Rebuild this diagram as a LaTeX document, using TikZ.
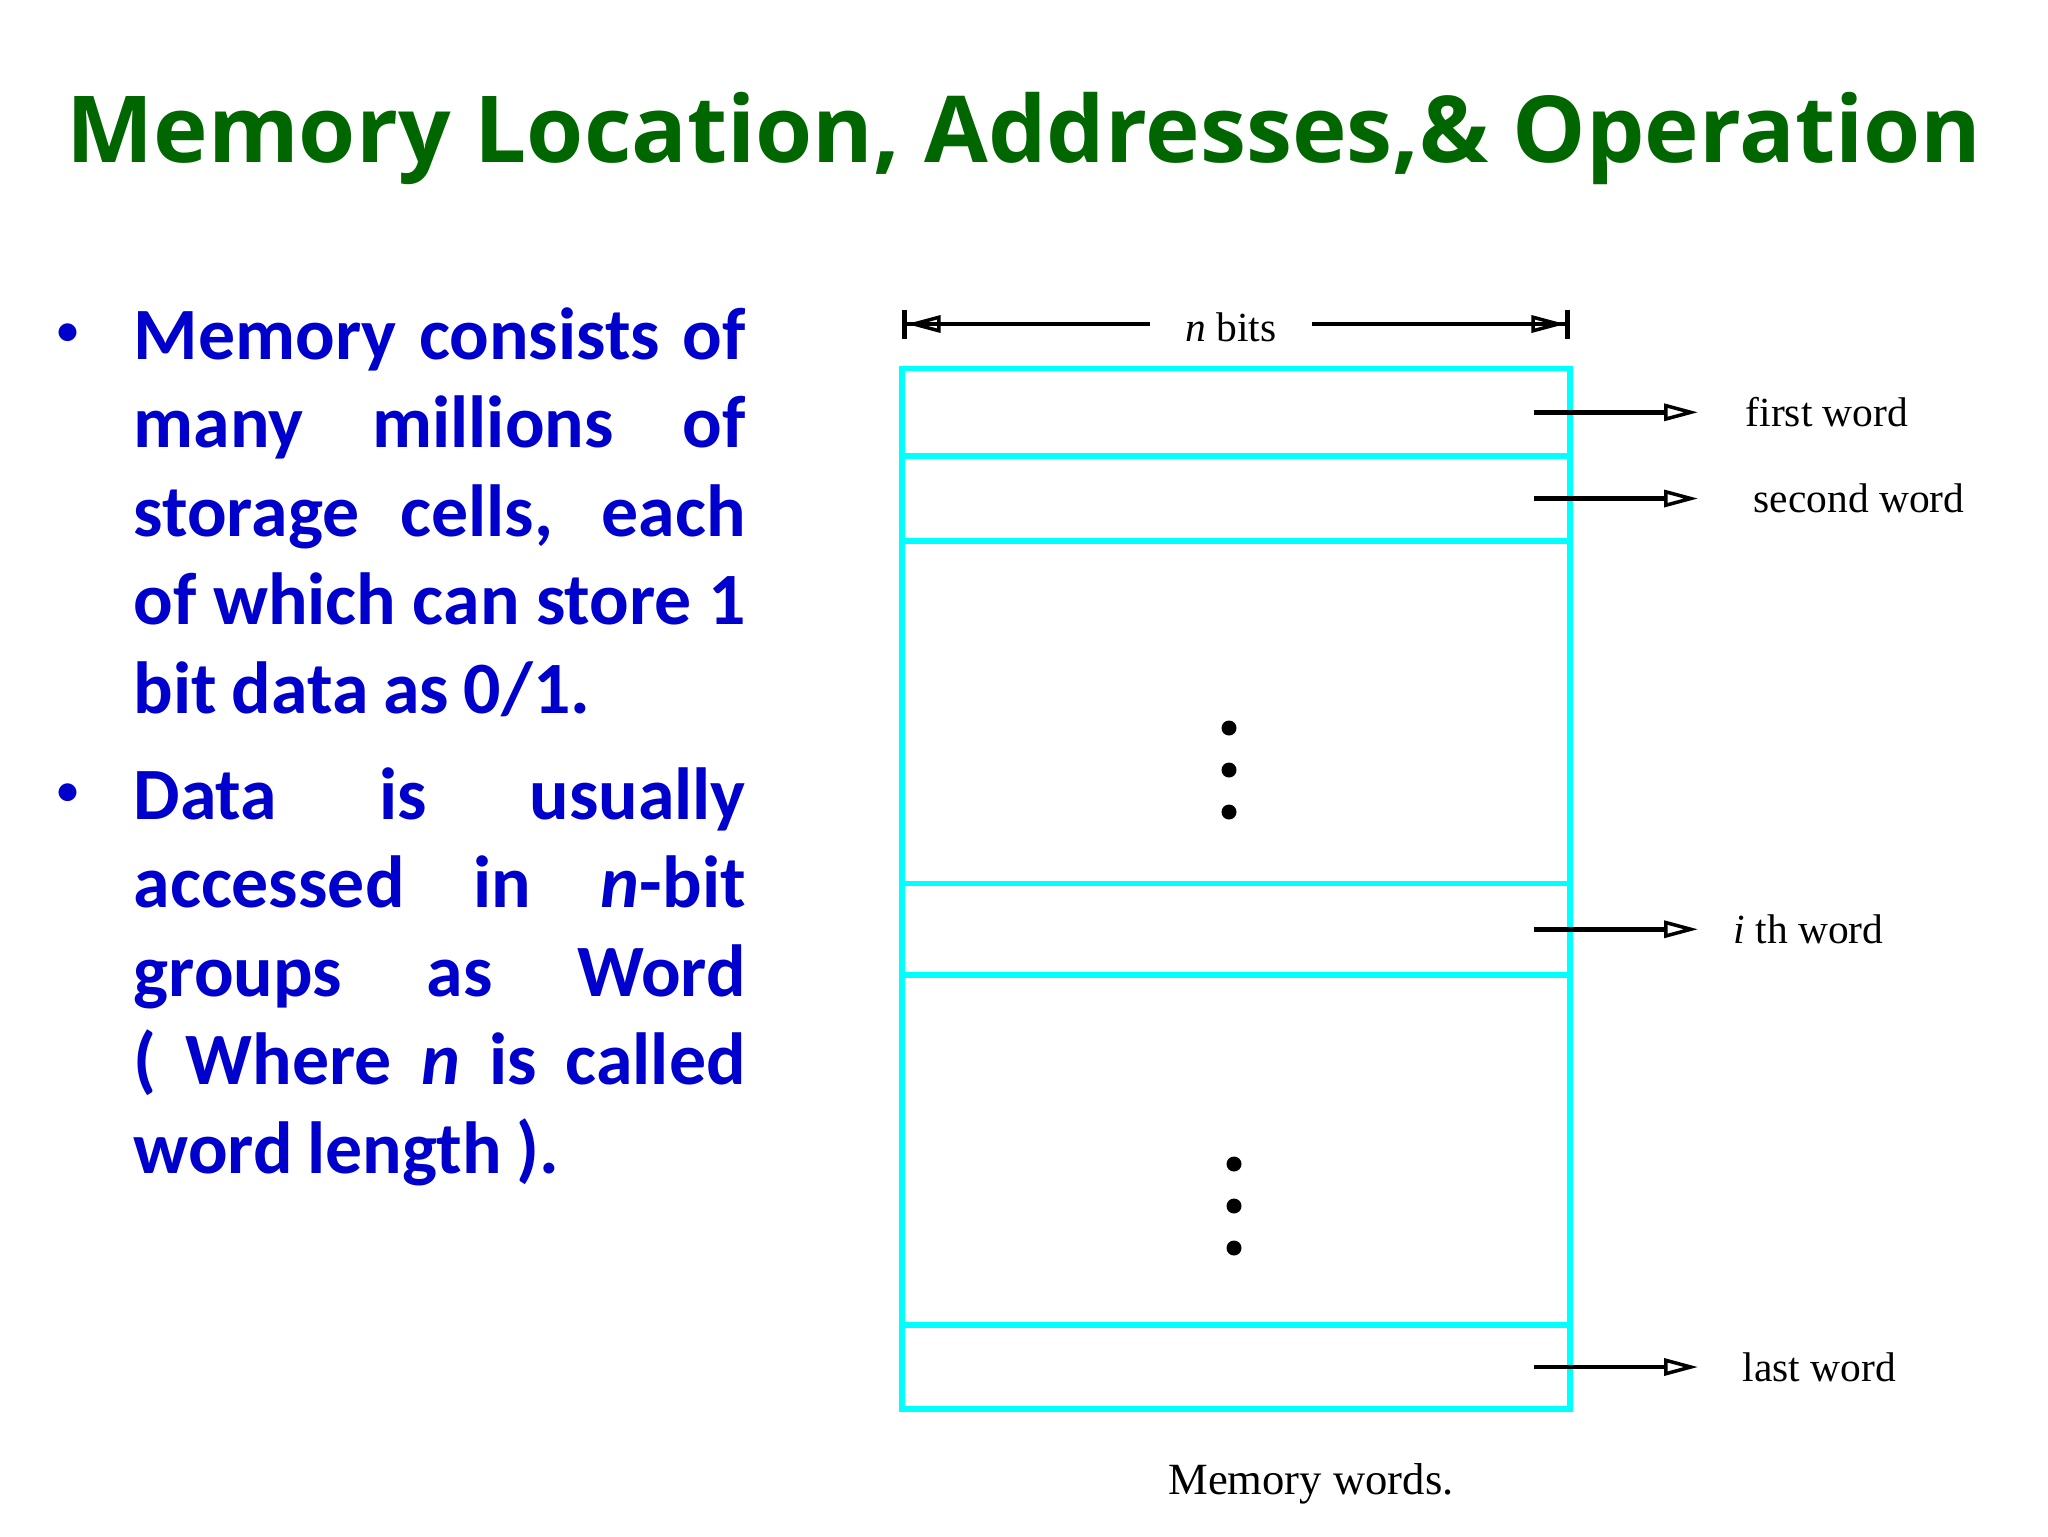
\documentclass[tikz,border=0pt]{standalone}
\usepackage{fontspec}
\setmainfont{Liberation Serif}
\newfontfamily\titlefont{Open Sans}
\newfontfamily\bodyfont{Carlito}
\usepackage{tikz}
\usetikzlibrary{arrows.meta,positioning}
\definecolor{titlegreen}{RGB}{0,102,0}
\definecolor{textblue}{RGB}{0,0,204}
\definecolor{cellcyan}{RGB}{0,255,255}
\newcommand{\paraset}{\bodyfont\bfseries\fontsize{21}{25.2}\selectfont\spaceskip=0.2em plus 2em minus 0.08em\tolerance=10000\hyphenpenalty=10000}
\tikzstyle{cell}=[draw=cellcyan, line width=1.6pt, minimum width=66.8mm, inner sep=0pt, outer sep=0pt]
\tikzstyle{ptr}=[line width=1.3pt, -{Triangle[open, length=3.4mm, width=1.7mm, line width=1pt]}]
\tikzstyle{dim}=[line width=1.3pt, -{Triangle[open, length=3.4mm, width=1.7mm, line width=1pt]Bar[width=2.9mm]}]
\tikzstyle{lbl}=[inner sep=0pt, font=\fontsize{11.8}{14}\selectfont]
\tikzstyle{para}=[anchor=base west, inner sep=0pt, text width=61.2mm, align=justify, text=textblue, font=\paraset]
\tikzstyle{dot}=[inner sep=0pt, text=textblue, font=\bodyfont\bfseries\fontsize{12}{14}\selectfont]

\begin{document}
\begin{tikzpicture}[x=0.1mm, y=-0.1mm]
            \useasboundingbox (0,0) rectangle (2048,1536);
            % titulo
            \node[anchor=base, inner sep=0pt, text=titlegreen, font=\titlefont\bfseries\fontsize{26.3}{30}\selectfont] (title) at (1024,162) {Memory Location, Addresses,\& Operation};

            % texto
            \node[dot] (b1) at (68,334) {•};
            \node[para] (p1) at (133,359) {Memory consists of\linebreak many millions of\linebreak storage cells, each\linebreak of which can store 1\linebreak bit data as 0/1.};
            \node[dot] (b2) at (68,794) {•};
            \node[para] (p2) at (133,819) {Data is usually\linebreak accessed in \textit{n}-bit\linebreak groups as Word\linebreak ( Where \textit{n} is called\linebreak word length ).};

            % palabras
            \node[cell, minimum height=8.74mm, anchor=north west] (w1) at (902,368.6) {};
            \node[cell, minimum height=8.5mm, below=0pt of w1] (w2) {};
            \node[cell, minimum height=34.25mm, below=0pt of w2] (d1) {};
            \node[cell, minimum height=9.15mm, below=0pt of d1] (wi) {};
            \node[cell, minimum height=35mm, below=0pt of wi] (d2) {};
            \node[cell, minimum height=8.4mm, below=0pt of d2] (wn) {};

            \foreach \y in {728,770,812} \fill (1229,\y) circle (0.75mm);
            \foreach \y in {1164,1206,1248} \fill (1234,\y) circle (0.75mm);

            % n bits
            \node[lbl, inner xsep=3.5mm, anchor=base] (nbits) at (1231,341) {\textit{n} bits};
            \coordinate (nl) at (902,324);
            \coordinate (nr) at (1570,324);
            \draw[dim] (nbits.west |- nl) -- (nl);
            \draw[dim] (nbits.east |- nr) -- (nr);

            % etiquetas
            \node[lbl, right=17.5mm of w1.east] (first) {first word};
            \node[lbl, right=18.3mm of w2.east] (second) {second word};
            \node[lbl, right=16.3mm of wi.east] (ith) {\textit{i}\ th word};
            \node[lbl, right=17.2mm of wn.east] (last) {last word};
            \draw[ptr] ([xshift=-3.6mm]w1.east) -- ([xshift=12.8mm]w1.east);
            \draw[ptr] ([xshift=-3.6mm]w2.east) -- ([xshift=12.8mm]w2.east);
            \draw[ptr] ([xshift=-3.6mm]wi.east) -- ([xshift=12.8mm]wi.east);
            \draw[ptr] ([xshift=-3.6mm]wn.east) -- ([xshift=12.8mm]wn.east);

            \node[lbl, anchor=base, font=\fontsize{12.7}{15}\selectfont] (caption) at (1311,1494) {Memory words.};
        \end{tikzpicture}
\end{document}
